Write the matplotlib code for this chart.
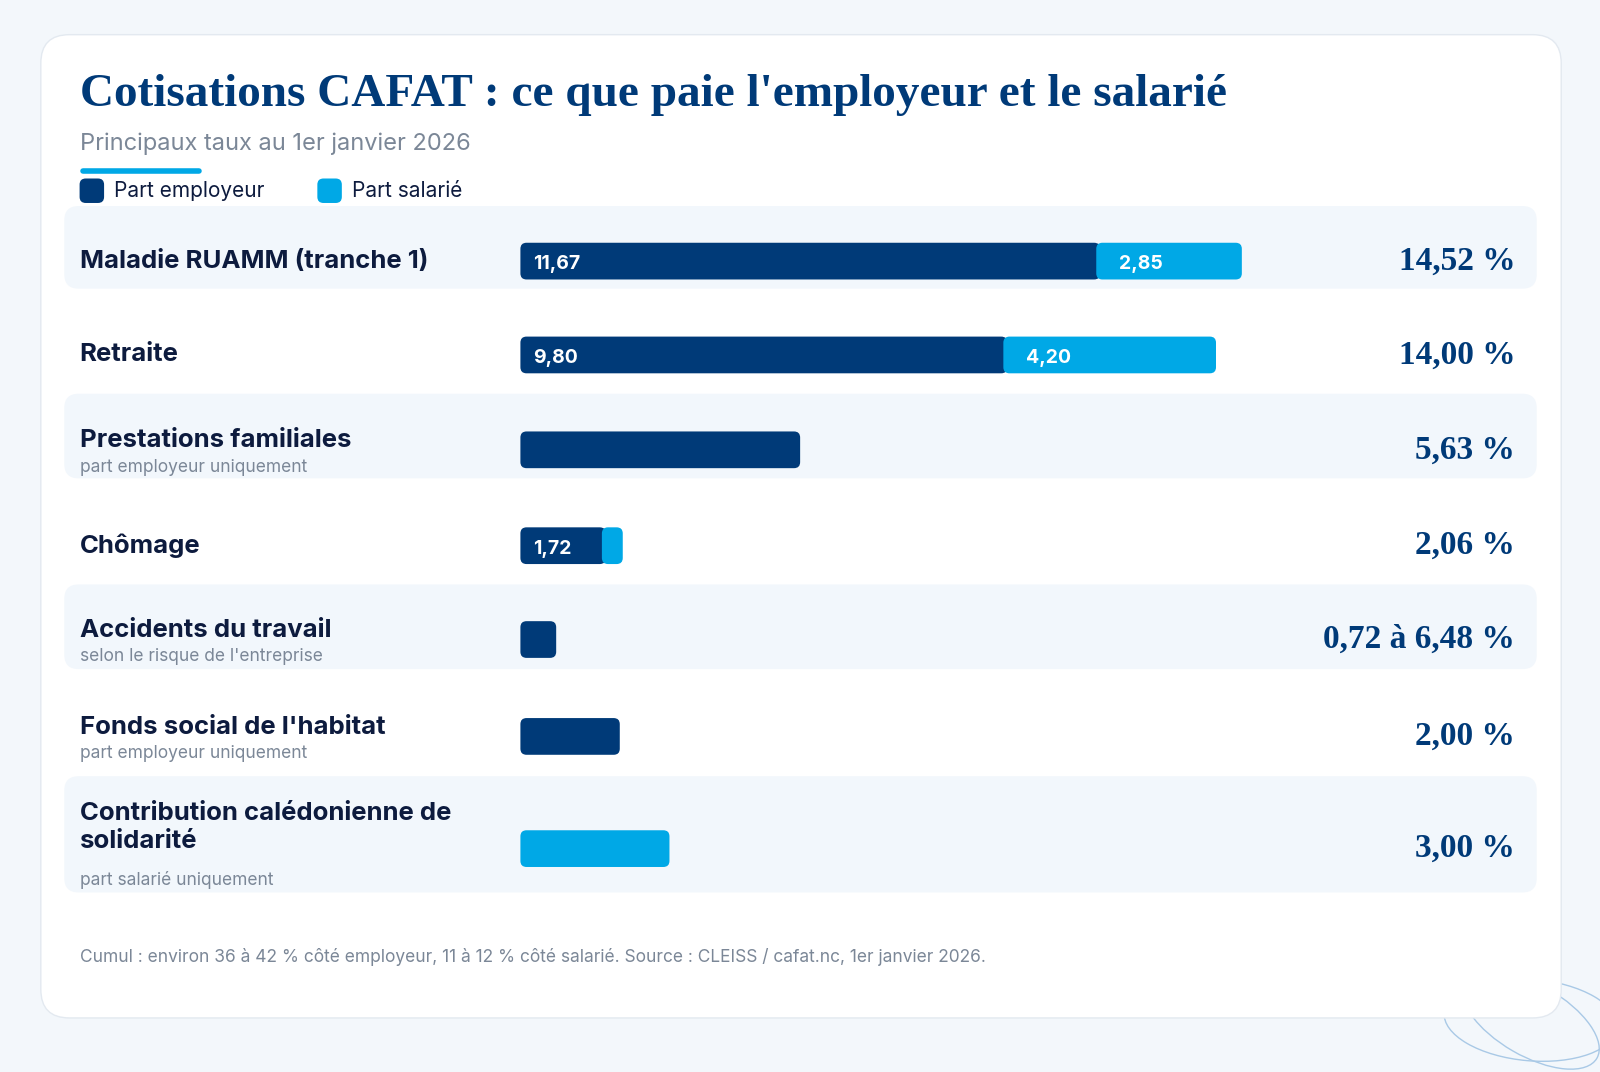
import matplotlib
matplotlib.use("Agg")
import matplotlib.pyplot as plt
from matplotlib.patches import FancyBboxPatch, Ellipse

categories = ["Maladie RUAMM (tranche 1)", "Retraite", "Prestations familiales", "Chômage",
              "Accidents du travail", "Fonds social de l'habitat", "Contribution calédonienne de\nsolidarité"]
subtitles = ["", "", "part employeur uniquement", "", "selon le risque de l'entreprise",
             "part employeur uniquement", "part salarié uniquement"]
employer = [11.67, 9.80, 5.63, 1.72, 0.72, 2.00, 0.0]
employee = [2.85, 4.20, 0.0, 0.34, 0.0, 0.0, 3.00]
emp_labels = ["11,67", "9,80", "", "1,72", "", "", ""]
sal_labels = ["2,85", "4,20", "", "", "", "", ""]
totals = ["14,52 %", "14,00 %", "5,63 %", "2,06 %", "0,72 à 6,48 %", "2,00 %", "3,00 %"]

DARK = "#003a78"
LIGHT = "#00a8e6"
NAVY = "#0d1b3e"
W, H = 1568, 1051

fig = plt.figure(figsize=(16, 10.72), dpi=100)
fig.patch.set_facecolor("#f3f7fb")
bg = fig.add_axes([0, 0, 1, 1])
bg.set_xlim(0, W); bg.set_ylim(H, 0); bg.axis("off")

# card
bg.add_patch(FancyBboxPatch((40, 34), 1490, 964, boxstyle="round,pad=0,rounding_size=28",
                            fc="white", ec="#e3e9f0", lw=1, zorder=1))
for a, w, h in [(-10, 170, 80), (15, 150, 70)]:
    bg.add_patch(Ellipse((1500, 1000), w, h, angle=a + 15, fill=False, ec="#a9c9e6", lw=1, zorder=0.5))

bg.text(78, 93, "Cotisations CAFAT : ce que paie l'employeur et le salarié", fontsize=34,
        fontweight="bold", family="Liberation Serif", color=DARK, va="center", zorder=3)
bg.text(78, 141, "Principaux taux au 1er janvier 2026", fontsize=17, family="Inter",
        color="#7b8797", va="center", zorder=3)
bg.plot([81, 195], [168, 168], color=LIGHT, lw=4, solid_capstyle="round", zorder=3)
for x, c, t in [(78, DARK, "Part employeur"), (311, LIGHT, "Part salarié")]:
    bg.add_patch(FancyBboxPatch((x, 175), 24, 24, boxstyle="round,pad=0,rounding_size=6",
                                fc=c, ec="none", zorder=3))
    bg.text(x + 34, 187, t, fontsize=15, family="Inter", color=NAVY, va="center", zorder=3)

rows_y = [256, 348, 441, 535, 627, 722, 832]
bands = [(202, 283), None, (386, 469), None, (573, 656), None, (761, 875)]
for b in bands:
    if b:
        bg.add_patch(FancyBboxPatch((63, b[0]), 1443, b[1] - b[0],
                                    boxstyle="round,pad=0,rounding_size=14",
                                    fc="#f2f7fc", ec="none", zorder=2))

for i, y in enumerate(rows_y):
    sub = subtitles[i]
    nl = "\n" in categories[i]
    ty = y - (9 if sub else 0) - (12 if nl else 0)
    bg.text(78, ty, categories[i], fontsize=18.5, fontweight="bold", family="Inter",
            color=NAVY, va="center", linespacing=1.3, zorder=3)
    if sub:
        sy = y + 17 + (14 if nl else 0)
        bg.text(78, sy, sub, fontsize=12.5, family="Inter", color="#7b8797", va="center", zorder=3)
    bg.text(1485, y, totals[i], fontsize=24, fontweight="bold", family="Liberation Serif",
            color=DARK, ha="right", va="center", zorder=3)

bg.text(78, 938, "Cumul : environ 36 à 42 % côté employeur, 11 à 12 % côté salarié. Source : CLEISS / cafat.nc, 1er janvier 2026.",
        fontsize=12.5, family="Inter", color="#7b8797", va="center", zorder=3)

# bar axes: spans 510..1217 px for 0..14.52 %
x0, x1 = 510, 1217
bx = fig.add_axes([x0 / W, 0, (x1 - x0) / W, 1])
bx.set_xlim(0, 14.52); bx.set_ylim(H, 0); bx.axis("off"); bx.patch.set_alpha(0)
pxu = (x1 - x0) / 14.52
r = 6 / pxu
bh = 36
for i, y in enumerate(rows_y):
    e, s = employer[i], employee[i]
    if e > 0:
        bx.add_patch(FancyBboxPatch((0, y - bh / 2), e, bh, boxstyle=f"round,pad=0,rounding_size={r}",
                                    mutation_aspect=pxu, fc=DARK, ec="none", zorder=3))
    if s > 0:
        start = max(e - 0.08, 0) if e > 0 else 0
        bx.add_patch(FancyBboxPatch((start, y - bh / 2), e + s - start, bh,
                                    boxstyle=f"round,pad=0,rounding_size={r}",
                                    mutation_aspect=pxu, fc=LIGHT, ec="none", zorder=4))
    if emp_labels[i]:
        bx.text(12 / pxu, y + 3, emp_labels[i], color="white", fontsize=14, fontweight="bold",
                family="Inter", va="center", zorder=5)
    if sal_labels[i]:
        bx.text(e + 18 / pxu, y + 3, sal_labels[i], color="white", fontsize=14, fontweight="bold",
                family="Inter", va="center", zorder=5)

fig.savefig("out.png", dpi=100, facecolor=fig.get_facecolor())
